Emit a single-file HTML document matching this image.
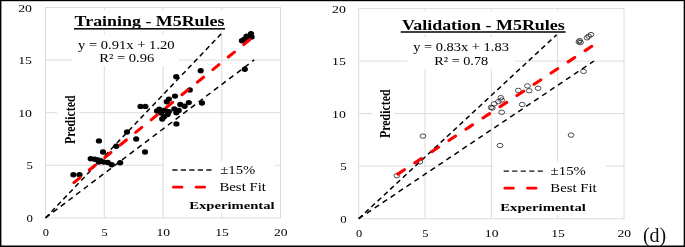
<!DOCTYPE html><html><head><meta charset="utf-8"><title>M5Rules</title><style>html,body{margin:0;padding:0;background:#fff}svg{display:block}text{font-family:"Liberation Serif","Times New Roman",serif}</style></head><body>
<svg width="685" height="247" viewBox="0 0 685 247">
<rect width="685" height="247" fill="#fff"/>
<line x1="104.25" y1="7.5" x2="104.25" y2="217.9" stroke="#dcdcdc" stroke-width="1"/>
<line x1="45.5" y1="60.10" x2="280.5" y2="60.10" stroke="#dcdcdc" stroke-width="1"/>
<line x1="163.00" y1="7.5" x2="163.00" y2="217.9" stroke="#dcdcdc" stroke-width="1"/>
<line x1="45.5" y1="112.70" x2="280.5" y2="112.70" stroke="#dcdcdc" stroke-width="1"/>
<line x1="221.75" y1="7.5" x2="221.75" y2="217.9" stroke="#dcdcdc" stroke-width="1"/>
<line x1="45.5" y1="165.30" x2="280.5" y2="165.30" stroke="#dcdcdc" stroke-width="1"/>
<rect x="45.5" y="7.5" width="235.00" height="210.40" fill="none" stroke="#dcdcdc" stroke-width="1"/>
<rect x="72" y="10.2" width="156.00" height="21.00" fill="#fff"/>
<rect x="72" y="34.4" width="107.00" height="31.60" fill="#fff"/>
<rect x="164" y="161" width="111.00" height="33.50" fill="#fff"/>
<rect x="185" y="194" width="91.00" height="19.00" fill="#fff"/>
<rect x="57.1" y="92" width="22.40" height="56.00" fill="#fff"/>
<line x1="45.5" y1="217.9" x2="223.4" y2="31.5" stroke="#000" stroke-width="1.5" stroke-dasharray="5 3.6"/>
<line x1="45.5" y1="217.9" x2="254.2" y2="59.9" stroke="#000" stroke-width="1.5" stroke-dasharray="5.3 4.3"/>
<ellipse cx="251.0" cy="33.6" rx="3.1" ry="2.7" fill="#000"/>
<ellipse cx="246.6" cy="36.3" rx="3.1" ry="2.7" fill="#000"/>
<ellipse cx="241.9" cy="40.7" rx="3.1" ry="2.7" fill="#000"/>
<ellipse cx="251.6" cy="37.0" rx="3.1" ry="2.7" fill="#000"/>
<ellipse cx="247.0" cy="38.8" rx="3.1" ry="2.7" fill="#000"/>
<ellipse cx="244.3" cy="39.2" rx="3.1" ry="2.7" fill="#000"/>
<ellipse cx="244.8" cy="69.3" rx="3.1" ry="2.7" fill="#000"/>
<ellipse cx="200.7" cy="70.8" rx="3.1" ry="2.7" fill="#000"/>
<ellipse cx="176.2" cy="76.7" rx="3.1" ry="2.7" fill="#000"/>
<ellipse cx="189.8" cy="89.9" rx="3.1" ry="2.7" fill="#000"/>
<ellipse cx="175.0" cy="96.1" rx="3.1" ry="2.7" fill="#000"/>
<ellipse cx="168.9" cy="99.1" rx="3.1" ry="2.7" fill="#000"/>
<ellipse cx="166.8" cy="101.8" rx="3.1" ry="2.7" fill="#000"/>
<ellipse cx="188.8" cy="102.6" rx="3.1" ry="2.7" fill="#000"/>
<ellipse cx="202.0" cy="103.0" rx="3.1" ry="2.7" fill="#000"/>
<ellipse cx="180.3" cy="104.5" rx="3.1" ry="2.7" fill="#000"/>
<ellipse cx="184.6" cy="106.2" rx="3.1" ry="2.7" fill="#000"/>
<ellipse cx="140.5" cy="106.4" rx="3.1" ry="2.7" fill="#000"/>
<ellipse cx="145.4" cy="106.4" rx="3.1" ry="2.7" fill="#000"/>
<ellipse cx="159.3" cy="109.1" rx="3.1" ry="2.7" fill="#000"/>
<ellipse cx="174.3" cy="108.9" rx="3.1" ry="2.7" fill="#000"/>
<ellipse cx="178.7" cy="110.5" rx="3.1" ry="2.7" fill="#000"/>
<ellipse cx="157.0" cy="111.0" rx="3.1" ry="2.7" fill="#000"/>
<ellipse cx="164.9" cy="110.2" rx="3.1" ry="2.7" fill="#000"/>
<ellipse cx="168.9" cy="111.6" rx="3.1" ry="2.7" fill="#000"/>
<ellipse cx="176.3" cy="112.8" rx="3.1" ry="2.7" fill="#000"/>
<ellipse cx="161.0" cy="113.0" rx="3.1" ry="2.7" fill="#000"/>
<ellipse cx="167.6" cy="114.5" rx="3.1" ry="2.7" fill="#000"/>
<ellipse cx="164.1" cy="116.8" rx="3.1" ry="2.7" fill="#000"/>
<ellipse cx="162.2" cy="119.0" rx="3.1" ry="2.7" fill="#000"/>
<ellipse cx="176.4" cy="123.9" rx="3.1" ry="2.7" fill="#000"/>
<ellipse cx="127" cy="132" rx="3.1" ry="2.7" fill="#000"/>
<ellipse cx="136.2" cy="139" rx="3.1" ry="2.7" fill="#000"/>
<ellipse cx="98.9" cy="140.9" rx="3.1" ry="2.7" fill="#000"/>
<ellipse cx="116.3" cy="146.2" rx="3.1" ry="2.7" fill="#000"/>
<ellipse cx="145.0" cy="152.0" rx="3.1" ry="2.7" fill="#000"/>
<ellipse cx="103.0" cy="152.0" rx="3.1" ry="2.7" fill="#000"/>
<ellipse cx="90.7" cy="158.8" rx="3.1" ry="2.7" fill="#000"/>
<ellipse cx="94.7" cy="159.3" rx="3.1" ry="2.7" fill="#000"/>
<ellipse cx="98" cy="159.9" rx="3.1" ry="2.7" fill="#000"/>
<ellipse cx="100.4" cy="161.2" rx="3.1" ry="2.7" fill="#000"/>
<ellipse cx="103.6" cy="162" rx="3.1" ry="2.7" fill="#000"/>
<ellipse cx="107.7" cy="162.5" rx="3.1" ry="2.7" fill="#000"/>
<ellipse cx="111.7" cy="164.8" rx="3.1" ry="2.7" fill="#000"/>
<ellipse cx="120.2" cy="162.8" rx="3.1" ry="2.7" fill="#000"/>
<ellipse cx="98.8" cy="162" rx="3.1" ry="2.7" fill="#000"/>
<ellipse cx="73.4" cy="174.8" rx="3.1" ry="2.7" fill="#000"/>
<ellipse cx="79.5" cy="174.8" rx="3.1" ry="2.7" fill="#000"/>
<line x1="73.9" y1="182.6" x2="250.4" y2="39.1" stroke="#f00" stroke-width="3.1" stroke-linecap="round" stroke-dasharray="7.9 12.0"/>
<text x="74.60" y="25.90" font-size="14" font-weight="bold" textLength="149.90" lengthAdjust="spacingAndGlyphs" fill="#000">Training - M5Rules</text>
<rect x="74" y="28.0" width="151.00" height="1.60" fill="#111"/>
<text x="78.00" y="48.70" font-size="11.7" textLength="96.60" lengthAdjust="spacingAndGlyphs" fill="#000">y = 0.91x + 1.20</text>
<text x="99.20" y="61.90" font-size="11.7" textLength="55.10" lengthAdjust="spacingAndGlyphs" fill="#000">R² = 0.96</text>
<line x1="172.3" y1="170" x2="211.5" y2="170" stroke="#111" stroke-width="1.4" stroke-dasharray="5.2 3.3"/>
<line x1="173.5" y1="187.2" x2="181.9" y2="187.2" stroke="#f00" stroke-width="2.8" stroke-linecap="round"/>
<line x1="196.20000000000002" y1="187.2" x2="204.60000000000002" y2="187.2" stroke="#f00" stroke-width="2.8" stroke-linecap="round"/>
<text x="220.20" y="173.70" font-size="11.5" textLength="35.10" lengthAdjust="spacingAndGlyphs" fill="#000">±15%</text>
<text x="219.40" y="190.70" font-size="11.5" textLength="46.60" lengthAdjust="spacingAndGlyphs" fill="#000">Best Fit</text>
<text x="189.20" y="209.30" font-size="10.8" font-weight="bold" textLength="85.40" lengthAdjust="spacingAndGlyphs" fill="#000">Experimental</text>
<text transform="translate(74.5,144) rotate(-90)" font-size="14" font-weight="bold" textLength="48.60" lengthAdjust="spacingAndGlyphs" fill="#000">Predicted</text>
<text x="18.20" y="11.55" font-size="11.4" textLength="13.80" lengthAdjust="spacingAndGlyphs" fill="#000">20</text>
<text x="18.20" y="64.15" font-size="11.4" textLength="13.80" lengthAdjust="spacingAndGlyphs" fill="#000">15</text>
<text x="18.20" y="116.75" font-size="11.4" textLength="13.80" lengthAdjust="spacingAndGlyphs" fill="#000">10</text>
<text x="26.50" y="169.35" font-size="11.4" textLength="6.40" lengthAdjust="spacingAndGlyphs" fill="#000">5</text>
<text x="26.50" y="221.95" font-size="11.4" textLength="6.40" lengthAdjust="spacingAndGlyphs" fill="#000">0</text>
<text x="42.70" y="236.00" font-size="11.4" textLength="6.20" lengthAdjust="spacingAndGlyphs" fill="#000">0</text>
<text x="101.45" y="236.00" font-size="11.4" textLength="6.20" lengthAdjust="spacingAndGlyphs" fill="#000">5</text>
<text x="156.50" y="236.00" font-size="11.4" textLength="13.60" lengthAdjust="spacingAndGlyphs" fill="#000">10</text>
<text x="215.25" y="236.00" font-size="11.4" textLength="13.60" lengthAdjust="spacingAndGlyphs" fill="#000">15</text>
<text x="274.00" y="236.00" font-size="11.4" textLength="13.60" lengthAdjust="spacingAndGlyphs" fill="#000">20</text>
<line x1="425.02" y1="8.55" x2="425.02" y2="218.65" stroke="#dcdcdc" stroke-width="1"/>
<line x1="358.7" y1="61.07" x2="624.0" y2="61.07" stroke="#dcdcdc" stroke-width="1"/>
<line x1="491.35" y1="8.55" x2="491.35" y2="218.65" stroke="#dcdcdc" stroke-width="1"/>
<line x1="358.7" y1="113.60" x2="624.0" y2="113.60" stroke="#dcdcdc" stroke-width="1"/>
<line x1="557.67" y1="8.55" x2="557.67" y2="218.65" stroke="#dcdcdc" stroke-width="1"/>
<line x1="358.7" y1="166.12" x2="624.0" y2="166.12" stroke="#dcdcdc" stroke-width="1"/>
<rect x="358.7" y="8.55" width="265.30" height="210.10" fill="none" stroke="#dcdcdc" stroke-width="1"/>
<rect x="398" y="11.5" width="170.00" height="23.00" fill="#fff"/>
<rect x="407.6" y="37.5" width="107.40" height="31.50" fill="#fff"/>
<rect x="493.4" y="161.4" width="112.60" height="33.10" fill="#fff"/>
<rect x="495" y="194" width="95.00" height="21.50" fill="#fff"/>
<rect x="372.3" y="86" width="22.20" height="56.00" fill="#fff"/>
<line x1="358.7" y1="218.65" x2="556.7" y2="34.7" stroke="#000" stroke-width="1.5" stroke-dasharray="5 3.6"/>
<line x1="358.7" y1="218.65" x2="594" y2="61" stroke="#000" stroke-width="1.5" stroke-dasharray="5.3 4.3"/>
<ellipse cx="591" cy="34.6" rx="2.9" ry="2.2" fill="none" stroke="#222" stroke-width="0.8"/>
<ellipse cx="588.6" cy="36.2" rx="2.9" ry="2.2" fill="none" stroke="#222" stroke-width="0.8"/>
<ellipse cx="587" cy="37.8" rx="2.9" ry="2.2" fill="none" stroke="#222" stroke-width="0.8"/>
<ellipse cx="579.7" cy="40.6" rx="2.9" ry="2.2" fill="none" stroke="#222" stroke-width="0.8"/>
<ellipse cx="578.9" cy="41.9" rx="2.9" ry="2.2" fill="none" stroke="#222" stroke-width="0.8"/>
<ellipse cx="580.5" cy="42.5" rx="2.9" ry="2.2" fill="none" stroke="#222" stroke-width="0.8"/>
<ellipse cx="583.5" cy="71.4" rx="2.9" ry="2.2" fill="none" stroke="#222" stroke-width="0.8"/>
<ellipse cx="527.5" cy="85.9" rx="2.9" ry="2.2" fill="none" stroke="#222" stroke-width="0.8"/>
<ellipse cx="538.1" cy="88.3" rx="2.9" ry="2.2" fill="none" stroke="#222" stroke-width="0.8"/>
<ellipse cx="518.3" cy="90.4" rx="2.9" ry="2.2" fill="none" stroke="#222" stroke-width="0.8"/>
<ellipse cx="529.2" cy="90.7" rx="2.9" ry="2.2" fill="none" stroke="#222" stroke-width="0.8"/>
<ellipse cx="500.8" cy="97.7" rx="2.9" ry="2.2" fill="none" stroke="#222" stroke-width="0.8"/>
<ellipse cx="501.6" cy="100.1" rx="2.9" ry="2.2" fill="none" stroke="#222" stroke-width="0.8"/>
<ellipse cx="498.4" cy="101.7" rx="2.9" ry="2.2" fill="none" stroke="#222" stroke-width="0.8"/>
<ellipse cx="494.3" cy="103.8" rx="2.9" ry="2.2" fill="none" stroke="#222" stroke-width="0.8"/>
<ellipse cx="522.2" cy="104.5" rx="2.9" ry="2.2" fill="none" stroke="#222" stroke-width="0.8"/>
<ellipse cx="491.1" cy="107.4" rx="2.9" ry="2.2" fill="none" stroke="#222" stroke-width="0.8"/>
<ellipse cx="492.3" cy="108.0" rx="2.9" ry="2.2" fill="none" stroke="#222" stroke-width="0.8"/>
<ellipse cx="501.7" cy="112.3" rx="2.9" ry="2.2" fill="none" stroke="#222" stroke-width="0.8"/>
<ellipse cx="422.9" cy="136.1" rx="2.9" ry="2.2" fill="none" stroke="#222" stroke-width="0.8"/>
<ellipse cx="500.0" cy="145.5" rx="2.9" ry="2.2" fill="none" stroke="#222" stroke-width="0.8"/>
<ellipse cx="571.1" cy="135.1" rx="2.9" ry="2.2" fill="none" stroke="#222" stroke-width="0.8"/>
<ellipse cx="396.8" cy="175.7" rx="2.9" ry="2.2" fill="none" stroke="#222" stroke-width="0.8"/>
<ellipse cx="419.8" cy="161.9" rx="2.9" ry="2.2" fill="none" stroke="#222" stroke-width="0.8"/>
<line x1="397.8" y1="174.1" x2="592.5" y2="45.8" stroke="#f00" stroke-width="3.1" stroke-linecap="round" stroke-dasharray="7.9 12.5"/>
<text x="401.90" y="30.00" font-size="14" font-weight="bold" textLength="162.90" lengthAdjust="spacingAndGlyphs" fill="#000">Validation - M5Rules</text>
<rect x="400.7" y="31.2" width="164.90" height="1.60" fill="#111"/>
<text x="413.20" y="51.40" font-size="11.7" textLength="95.70" lengthAdjust="spacingAndGlyphs" fill="#000">y = 0.83x + 1.83</text>
<text x="434.30" y="64.70" font-size="11.7" textLength="53.90" lengthAdjust="spacingAndGlyphs" fill="#000">R² = 0.78</text>
<line x1="503.7" y1="171.1" x2="543" y2="171.1" stroke="#111" stroke-width="1.4" stroke-dasharray="5.2 3.3"/>
<line x1="504.9" y1="188.2" x2="513.3" y2="188.2" stroke="#f00" stroke-width="2.8" stroke-linecap="round"/>
<line x1="527.6" y1="188.2" x2="536.0" y2="188.2" stroke="#f00" stroke-width="2.8" stroke-linecap="round"/>
<text x="550.60" y="174.80" font-size="11.5" textLength="35.30" lengthAdjust="spacingAndGlyphs" fill="#000">±15%</text>
<text x="550.30" y="191.90" font-size="11.5" textLength="46.30" lengthAdjust="spacingAndGlyphs" fill="#000">Best Fit</text>
<text x="500.30" y="211.00" font-size="10.8" font-weight="bold" textLength="85.50" lengthAdjust="spacingAndGlyphs" fill="#000">Experimental</text>
<text transform="translate(389.5,138) rotate(-90)" font-size="14" font-weight="bold" textLength="48.60" lengthAdjust="spacingAndGlyphs" fill="#000">Predicted</text>
<text x="332.00" y="12.60" font-size="11.4" textLength="13.80" lengthAdjust="spacingAndGlyphs" fill="#000">20</text>
<text x="332.00" y="65.12" font-size="11.4" textLength="13.80" lengthAdjust="spacingAndGlyphs" fill="#000">15</text>
<text x="332.00" y="117.65" font-size="11.4" textLength="13.80" lengthAdjust="spacingAndGlyphs" fill="#000">10</text>
<text x="340.30" y="170.17" font-size="11.4" textLength="6.40" lengthAdjust="spacingAndGlyphs" fill="#000">5</text>
<text x="340.30" y="222.70" font-size="11.4" textLength="6.40" lengthAdjust="spacingAndGlyphs" fill="#000">0</text>
<text x="355.90" y="237.20" font-size="11.4" textLength="6.20" lengthAdjust="spacingAndGlyphs" fill="#000">0</text>
<text x="422.22" y="237.20" font-size="11.4" textLength="6.20" lengthAdjust="spacingAndGlyphs" fill="#000">5</text>
<text x="484.85" y="237.20" font-size="11.4" textLength="13.60" lengthAdjust="spacingAndGlyphs" fill="#000">10</text>
<text x="551.17" y="237.20" font-size="11.4" textLength="13.60" lengthAdjust="spacingAndGlyphs" fill="#000">15</text>
<text x="617.50" y="237.20" font-size="11.4" textLength="13.60" lengthAdjust="spacingAndGlyphs" fill="#000">20</text>
<text x="642.9" y="242.1" font-size="20" fill="#111">(d)</text>
<rect x="0" y="0" width="685" height="1.2" fill="#000"/>
<rect x="0" y="0" width="1.4" height="247" fill="#000"/>
<rect x="0" y="245.5" width="685" height="1.5" fill="#000"/>
<rect x="683.7" y="0" width="1.3" height="247" fill="#000"/>
</svg></body></html>
